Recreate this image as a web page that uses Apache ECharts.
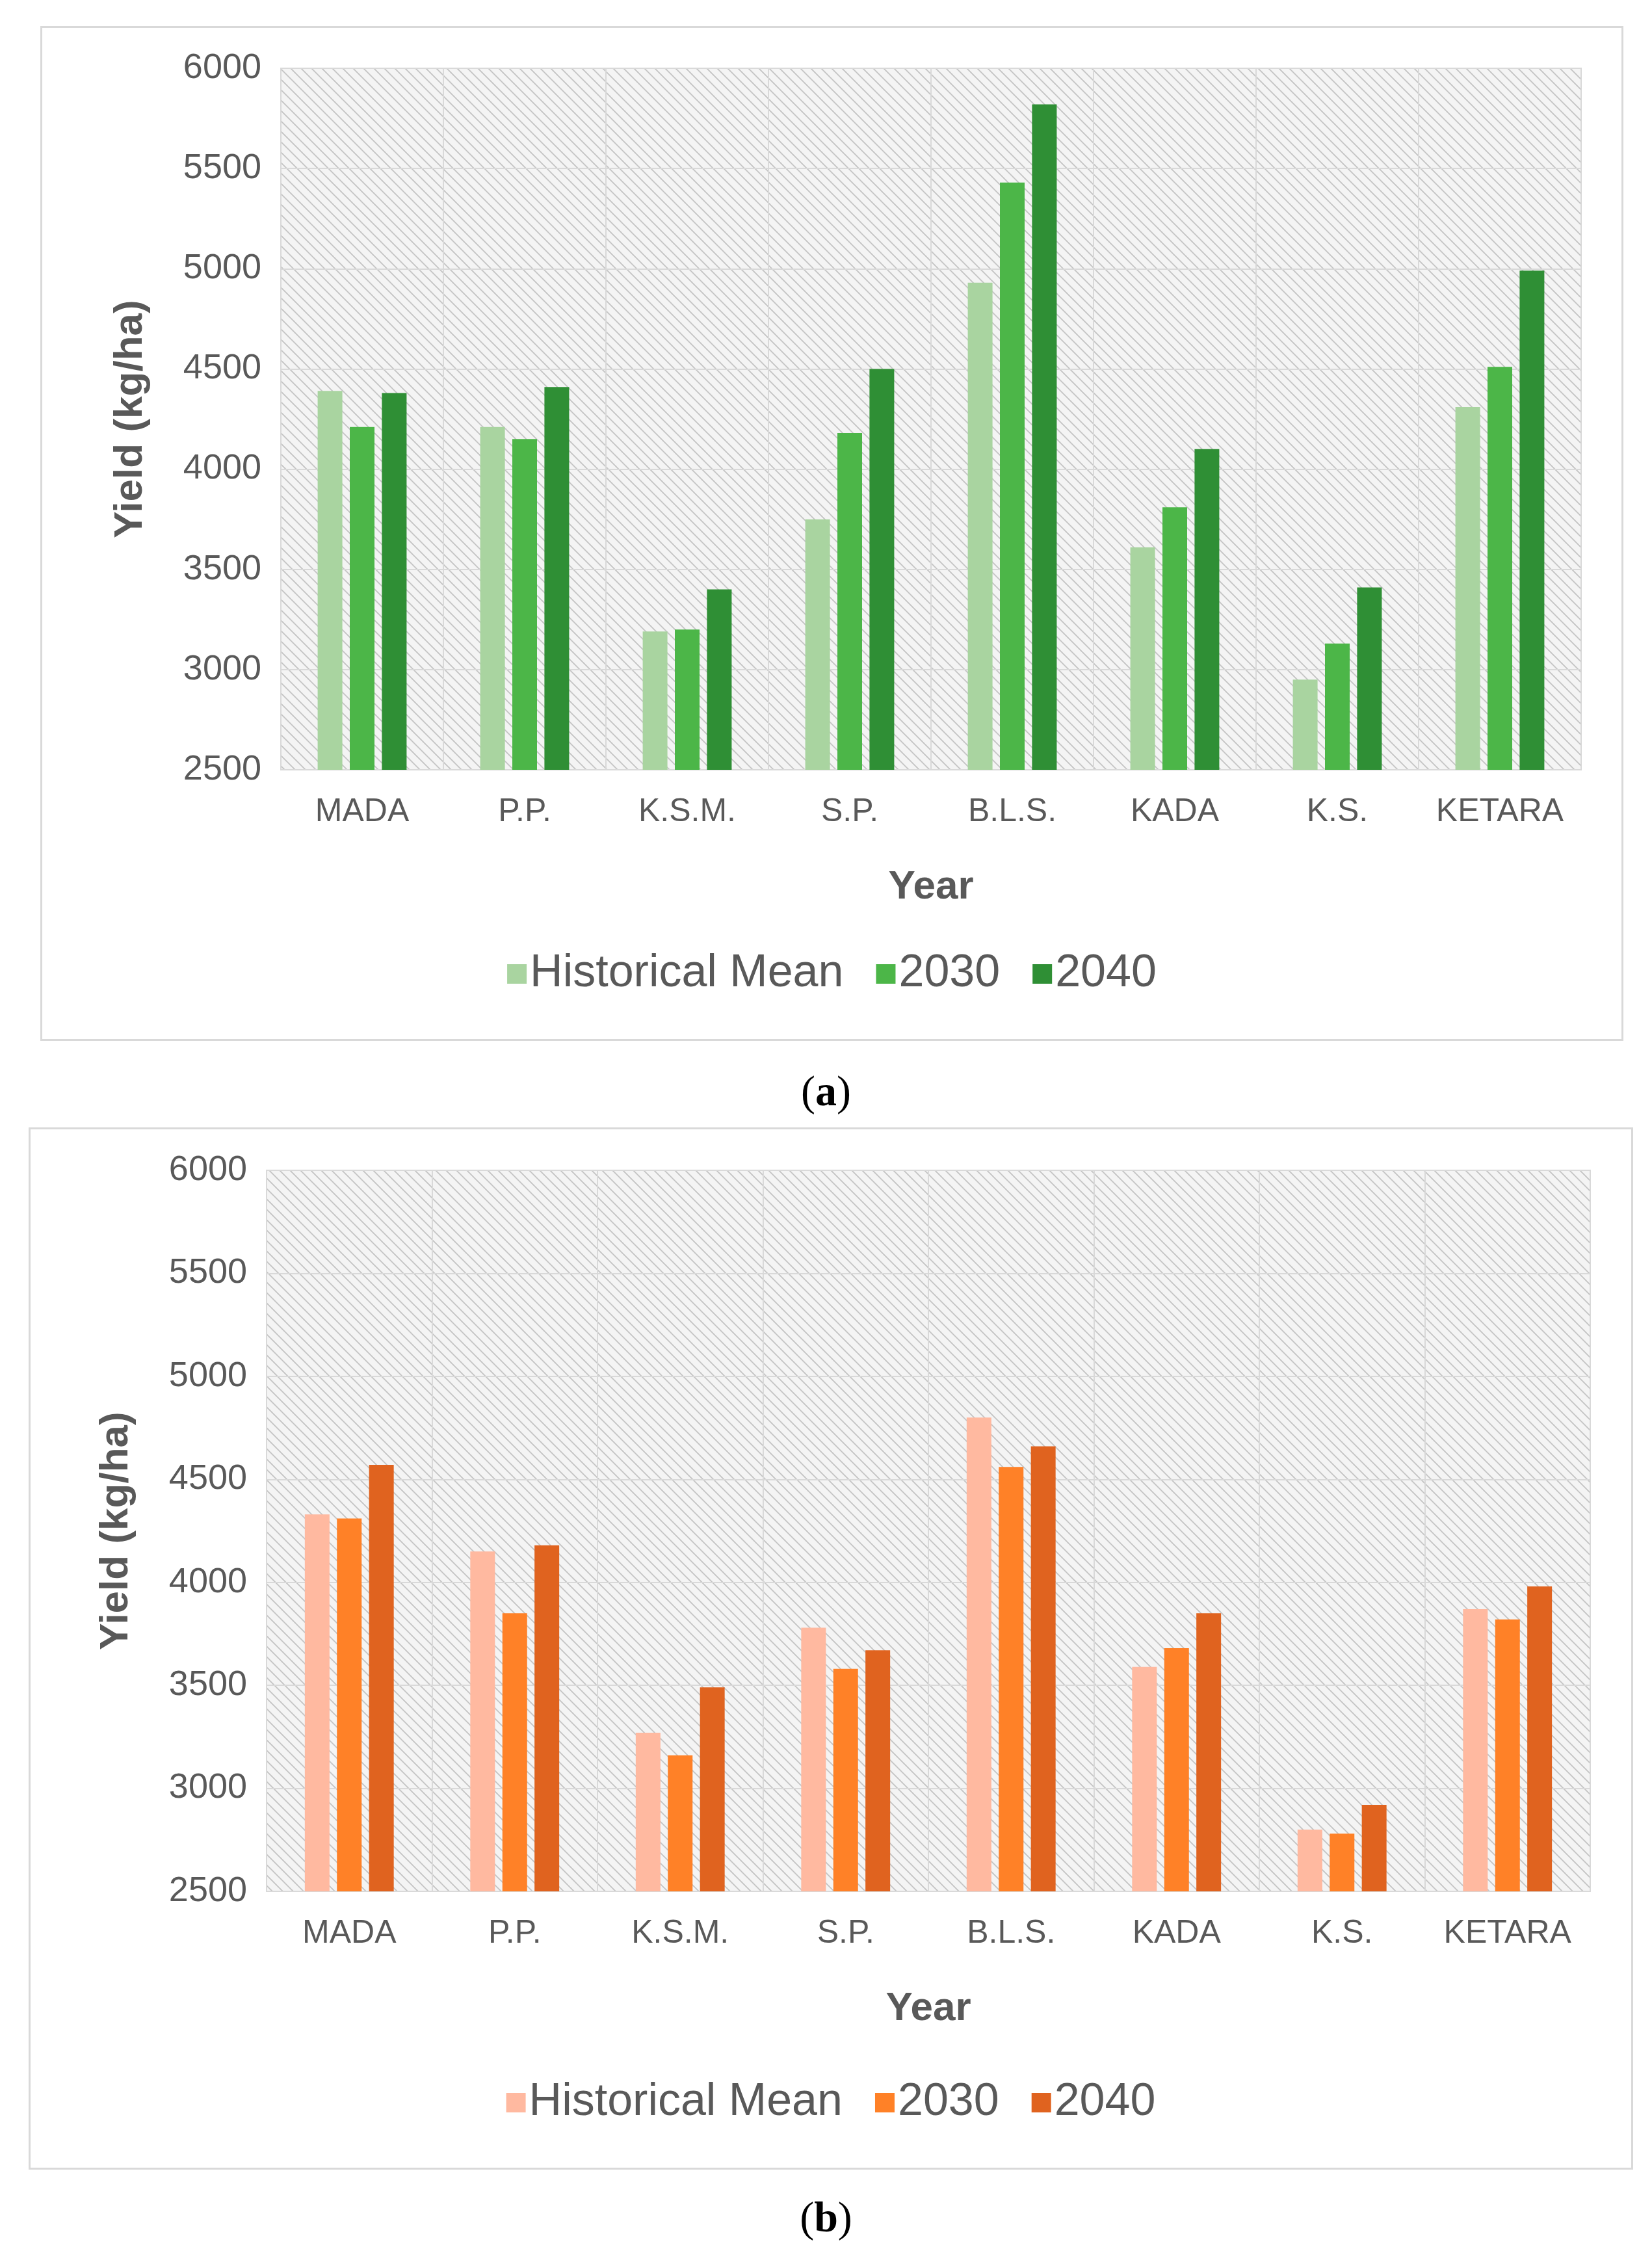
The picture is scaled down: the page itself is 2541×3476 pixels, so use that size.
<!DOCTYPE html>
<html><head><meta charset="utf-8">
<script src="https://cdn.jsdelivr.net/npm/echarts@6/dist/echarts.min.js"></script>
<style>
body{margin:0;background:#fff;width:2541px;height:3476px;position:relative;font-family:"Liberation Serif",serif;}
.box{position:absolute;border:3px solid #d9d9d9;box-sizing:border-box;}
.lab{position:absolute;width:2541px;text-align:center;font-size:66px;color:#000;}
</style></head><body>
<div id="a" class="box" style="left:62px;top:40px;width:2435px;height:1561px"></div>
<div class="lab" style="top:1640px">(<b>a</b>)</div>
<div id="b" class="box" style="left:44px;top:1734px;width:2468px;height:1603px"></div>
<div class="lab" style="top:3372px">(<b>b</b>)</div>
<script>
const categories=["MADA","P.P.","K.S.M.","S.P.","B.L.S.","KADA","K.S.","KETARA"];
const seriesNames=["Historical Mean","2030","2040"];
const yTicks=[2500,3000,3500,4000,4500,5000,5500,6000];
const aHist=[4390,4210,3190,3750,4930,3610,2950,4310];
const a2030=[4210,4150,3200,4180,5430,3810,3130,4510];
const a2040=[4380,4410,3400,4500,5820,4100,3410,4990];
const bHist=[4330,4150,3270,3780,4800,3590,2800,3870];
const b2030=[4310,3850,3160,3580,4560,3680,2780,3820];
const b2040=[4570,4180,3490,3670,4660,3850,2920,3980];
const greens=["#a9d4a0","#4cb648","#2f8f35"];
const oranges=["#ffb9a0","#ff8127","#e0631f"];

function hatch(){
  const c=document.createElement('canvas');c.width=16;c.height=16;
  const g=c.getContext('2d');g.fillStyle='#f4f4f4';g.fillRect(0,0,16,16);
  g.strokeStyle='#c4c4c4';g.lineWidth=1.8;
  g.beginPath();
  g.moveTo(0,0);g.lineTo(16,16);g.moveTo(-8,8);g.lineTo(8,24);g.moveTo(8,-8);g.lineTo(24,8);
  g.stroke();return c;
}
function make(id,data,colors,grid,legendTop){
  const ch=echarts.init(document.getElementById(id));
  const txt='#595959', ff='Liberation Sans';
  ch.setOption({
    animation:false,
    grid:Object.assign({show:true,backgroundColor:{image:hatch(),repeat:'repeat'},borderColor:'#d9d9d9',borderWidth:2},grid),
    legend:{bottom:legendTop,itemWidth:30,itemHeight:30,itemGap:50,icon:'rect',
      textStyle:{fontSize:70,color:txt,fontFamily:ff},data:seriesNames},
    xAxis:{type:'category',data:categories,name:'Year',nameLocation:'middle',nameGap:150,
      nameTextStyle:{fontSize:62,fontWeight:'bold',color:txt,fontFamily:ff},
      axisTick:{show:false},axisLine:{lineStyle:{color:'#d9d9d9',width:2}},
      axisLabel:{interval:0,fontSize:50,color:txt,fontFamily:ff,margin:40},
      splitLine:{show:true,interval:0,lineStyle:{color:'#d9d9d9',width:2}}},
    yAxis:{type:'value',min:2500,max:6000,interval:500,name:'Yield (kg/ha)',nameLocation:'middle',nameGap:200,
      nameTextStyle:{fontSize:62,fontWeight:'bold',color:txt,fontFamily:ff},
      axisLabel:{fontSize:54,color:txt,fontFamily:ff,margin:30,formatter:v=>String(v)},
      splitLine:{lineStyle:{color:'#d9d9d9',width:2}}},
    series:data.map((d,i)=>({type:'bar',name:seriesNames[i],data:d,barWidth:38,barGap:'30%',
      itemStyle:{color:colors[i]}}))
  });
}
make('a',[aHist,a2030,a2040],greens,{left:367,right:62,top:62,bottom:414},60);
make('b',[bHist,b2030,b2040],oranges,{left:363,right:63,top:63,bottom:425},60);
</script></body></html>
